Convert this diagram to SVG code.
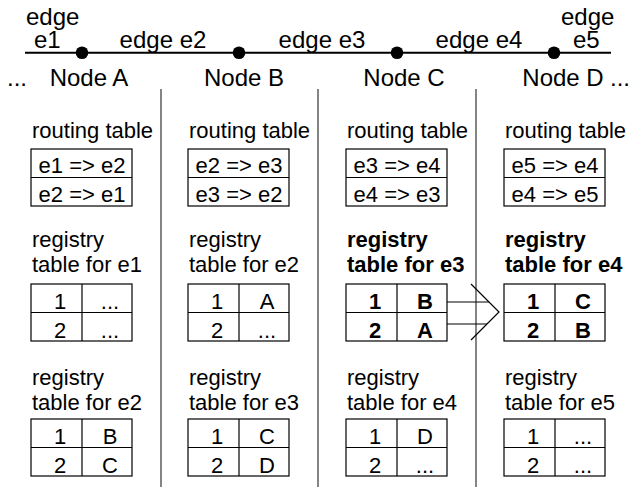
<svg xmlns="http://www.w3.org/2000/svg" width="631" height="487" viewBox="0 0 631 487">
<defs>
<style>
text{font-family:"Liberation Sans",Arial,sans-serif;font-size:22px;fill:#000}
.t{font-size:24px}
.m{text-anchor:middle}
.b{font-weight:bold}
.tb{fill:none;stroke:#000;stroke-width:1.2}
.div{stroke:#333;stroke-width:1.2}
.ln{stroke:#000;stroke-width:1.2;fill:none}
</style>
</defs>
<rect width="631" height="487" fill="#fff"/>
<g id="edges">
<line x1="25" y1="52.7" x2="611" y2="52.7" stroke="#000" stroke-width="2"/>
<text class="t" x="26" y="25">edge</text>
<text class="t" x="34" y="47.5">e1</text>
<text class="t m" x="163" y="47.5">edge e2</text>
<text class="t m" x="322" y="47.5">edge e3</text>
<text class="t m" x="479" y="47.5">edge e4</text>
<text class="t" x="561" y="25">edge</text>
<text class="t" x="573" y="47.5">e5</text>
<text class="t" x="7" y="86">...</text>
<text class="t" x="610" y="86">...</text>
</g>
<g id="dividers">
<line class="div" x1="161" y1="89" x2="161" y2="487"/>
<line class="div" x1="318" y1="89" x2="318" y2="487"/>
<line class="div" x1="476" y1="89" x2="476" y2="487"/>
</g>
<g id="nodeA">
<circle cx="82" cy="52.7" r="6.3"/>
<text class="t m" x="89" y="86">Node A</text>
<text x="32" y="138">routing table</text>
<rect class="tb" x="31" y="149" width="101" height="57"/>
<line class="tb" x1="31" y1="177.5" x2="132" y2="177.5"/>
<text class="m" x="82" y="173">e1 =&gt; e2</text>
<text class="m" x="82" y="202">e2 =&gt; e1</text>
<text x="32" y="246.5">registry</text>
<text x="32" y="272">table for e1</text>
<rect class="tb" x="31" y="284" width="101" height="57"/>
<line class="tb" x1="31" y1="312.5" x2="132" y2="312.5"/>
<line class="tb" x1="82" y1="284" x2="82" y2="341"/>
<text class="m" x="60" y="309">1</text>
<text class="m" x="110" y="309">...</text>
<text class="m" x="60" y="338">2</text>
<text class="m" x="110" y="338">...</text>
<text x="32" y="385">registry</text>
<text x="32" y="410">table for e2</text>
<rect class="tb" x="31" y="419" width="101" height="57"/>
<line class="tb" x1="31" y1="447.5" x2="132" y2="447.5"/>
<line class="tb" x1="82" y1="419" x2="82" y2="476"/>
<text class="m" x="60" y="444">1</text>
<text class="m" x="110" y="444">B</text>
<text class="m" x="60" y="473">2</text>
<text class="m" x="110" y="473">C</text>
</g>
<g id="nodeB">
<circle cx="239" cy="52.7" r="6.3"/>
<text class="t m" x="244" y="86">Node B</text>
<text x="189" y="138">routing table</text>
<rect class="tb" x="188" y="149" width="101" height="57"/>
<line class="tb" x1="188" y1="177.5" x2="289" y2="177.5"/>
<text class="m" x="239" y="173">e2 =&gt; e3</text>
<text class="m" x="239" y="202">e3 =&gt; e2</text>
<text x="189" y="246.5">registry</text>
<text x="189" y="272">table for e2</text>
<rect class="tb" x="188" y="284" width="101" height="57"/>
<line class="tb" x1="188" y1="312.5" x2="289" y2="312.5"/>
<line class="tb" x1="239" y1="284" x2="239" y2="341"/>
<text class="m" x="217" y="309">1</text>
<text class="m" x="267" y="309">A</text>
<text class="m" x="217" y="338">2</text>
<text class="m" x="267" y="338">...</text>
<text x="189" y="385">registry</text>
<text x="189" y="410">table for e3</text>
<rect class="tb" x="188" y="419" width="101" height="57"/>
<line class="tb" x1="188" y1="447.5" x2="289" y2="447.5"/>
<line class="tb" x1="239" y1="419" x2="239" y2="476"/>
<text class="m" x="217" y="444">1</text>
<text class="m" x="267" y="444">C</text>
<text class="m" x="217" y="473">2</text>
<text class="m" x="267" y="473">D</text>
</g>
<g id="nodeC">
<circle cx="397" cy="52.7" r="6.3"/>
<text class="t m" x="404" y="86">Node C</text>
<text x="347" y="138">routing table</text>
<rect class="tb" x="346" y="149" width="101" height="57"/>
<line class="tb" x1="346" y1="177.5" x2="447" y2="177.5"/>
<text class="m" x="397" y="173">e3 =&gt; e4</text>
<text class="m" x="397" y="202">e4 =&gt; e3</text>
<text class="b" x="347" y="246.5">registry</text>
<text class="b" x="347" y="272">table for e3</text>
<rect class="tb" x="346" y="284" width="101" height="57"/>
<line class="tb" x1="346" y1="312.5" x2="447" y2="312.5"/>
<line class="tb" x1="397" y1="284" x2="397" y2="341"/>
<text class="m b" x="375" y="309">1</text>
<text class="m b" x="425" y="309">B</text>
<text class="m b" x="375" y="338">2</text>
<text class="m b" x="425" y="338">A</text>
<text x="347" y="385">registry</text>
<text x="347" y="410">table for e4</text>
<rect class="tb" x="346" y="419" width="101" height="57"/>
<line class="tb" x1="346" y1="447.5" x2="447" y2="447.5"/>
<line class="tb" x1="397" y1="419" x2="397" y2="476"/>
<text class="m" x="375" y="444">1</text>
<text class="m" x="425" y="444">D</text>
<text class="m" x="375" y="473">2</text>
<text class="m" x="425" y="473">...</text>
</g>
<g id="nodeD">
<circle cx="554" cy="52.7" r="6.3"/>
<text class="t m" x="563" y="86">Node D</text>
<text x="505" y="138">routing table</text>
<rect class="tb" x="504" y="149" width="101" height="57"/>
<line class="tb" x1="504" y1="177.5" x2="605" y2="177.5"/>
<text class="m" x="555" y="173">e5 =&gt; e4</text>
<text class="m" x="555" y="202">e4 =&gt; e5</text>
<text class="b" x="505" y="246.5">registry</text>
<text class="b" x="505" y="272">table for e4</text>
<rect class="tb" x="504" y="284" width="101" height="57"/>
<line class="tb" x1="504" y1="312.5" x2="605" y2="312.5"/>
<line class="tb" x1="555" y1="284" x2="555" y2="341"/>
<text class="m b" x="533" y="309">1</text>
<text class="m b" x="583" y="309">C</text>
<text class="m b" x="533" y="338">2</text>
<text class="m b" x="583" y="338">B</text>
<text x="505" y="385">registry</text>
<text x="505" y="410">table for e5</text>
<rect class="tb" x="504" y="419" width="101" height="57"/>
<line class="tb" x1="504" y1="447.5" x2="605" y2="447.5"/>
<line class="tb" x1="555" y1="419" x2="555" y2="476"/>
<text class="m" x="533" y="444">1</text>
<text class="m" x="583" y="444">...</text>
<text class="m" x="533" y="473">2</text>
<text class="m" x="583" y="473">...</text>
</g>
<g id="connectors">
<line class="ln" x1="447" y1="302" x2="489" y2="302"/>
<line class="ln" x1="447" y1="324" x2="487" y2="324"/>
<polyline class="ln" points="471,284 499,312 471,340"/>
</g>
</svg>
